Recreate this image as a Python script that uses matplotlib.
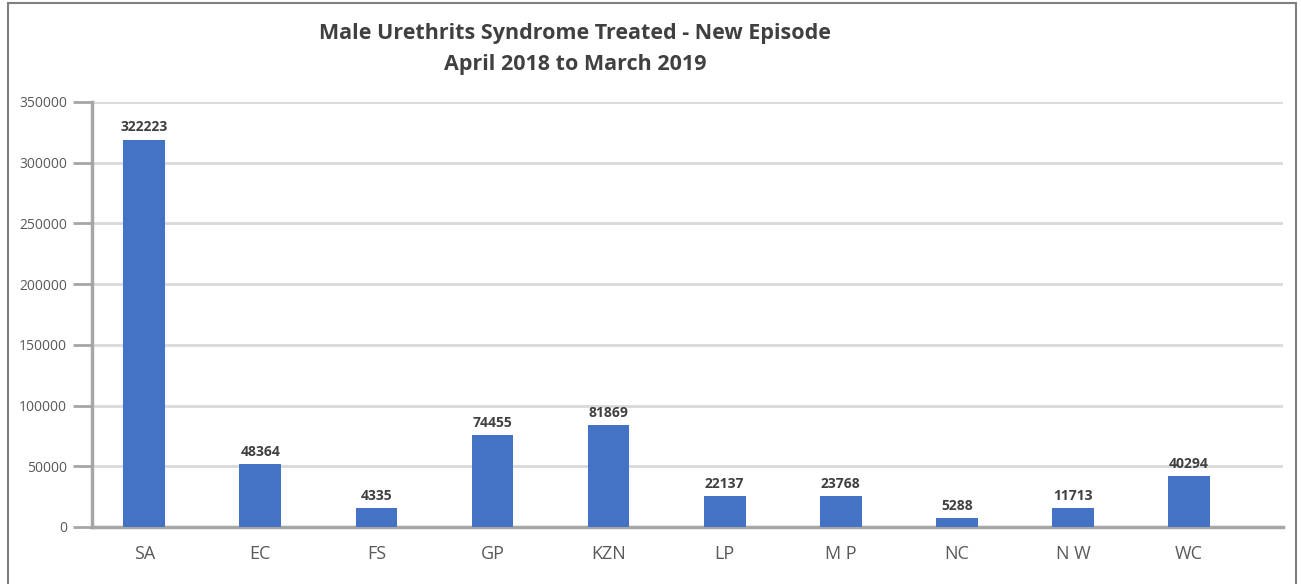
import matplotlib
matplotlib.use("Agg")
import matplotlib.pyplot as plt
from matplotlib.patches import Rectangle

categories = ["SA", "EC", "FS", "GP", "KZN", "LP", "M P", "NC", "N W", "WC"]
label_values = [322223, 48364, 4335, 74455, 81869, 22137, 23768, 5288, 11713, 40294]
bar_heights = [319000, 51700, 15400, 75700, 83900, 25300, 25300, 7200, 15400, 41800]
yticks = [0, 50000, 100000, 150000, 200000, 250000, 300000, 350000]
title = "Male Urethrits Syndrome Treated - New Episode\nApril 2018 to March 2019"

W, H = 1301, 584
fig = plt.figure(figsize=(W / 100, H / 100), dpi=100)
fig.patch.set_facecolor("white")

# outer frame
fig.add_artist(Rectangle((8 / W, -0.05), (1296 - 8) / W, 1.05 - 3 / H,
                         transform=fig.transFigure, fill=False,
                         edgecolor="#7f7f7f", linewidth=1.5))

ax = fig.add_axes([92 / W, 1 - 527 / H, (1283 - 92) / W, (527 - 102) / H])
x = list(range(len(categories)))
ax.bar(x, bar_heights, width=0.36, color="#4472C4", zorder=3)

for xi, h, v in zip(x, bar_heights, label_values):
    ax.annotate(str(v), (xi, h), xytext=(0, 4), textcoords="offset points",
                ha="center", va="bottom", fontsize=10, fontweight="bold",
                color="#404040", family="Open Sans")

ax.set_ylim(0, 350000)
ax.set_xlim(-0.45, 9.81)
ax.set_yticks(yticks)
ax.set_yticklabels([str(t) for t in yticks], fontsize=10, color="#595959",
                   family="Open Sans")
ax.set_xticks(x)
ax.set_xticklabels(categories, fontsize=13, color="#595959", family="Open Sans")
ax.tick_params(axis="x", length=0, pad=13)
ax.tick_params(axis="y", length=14, width=2, color="#a6a6a6", pad=4)

ax.grid(axis="y", color="#d9d9d9", linewidth=2, zorder=0)
ax.set_axisbelow(True)
for s in ["top", "right"]:
    ax.spines[s].set_visible(False)
for s in ["left", "bottom"]:
    ax.spines[s].set_color("#a6a6a6")
    ax.spines[s].set_linewidth(2.5)

fig.text(575 / W, 1 - 49 / H, title, ha="center", va="center", fontsize=15.5,
         fontweight="bold", color="#404040", family="Open Sans", linespacing=1.6)

fig.savefig("out.png", dpi=100, facecolor="white")
